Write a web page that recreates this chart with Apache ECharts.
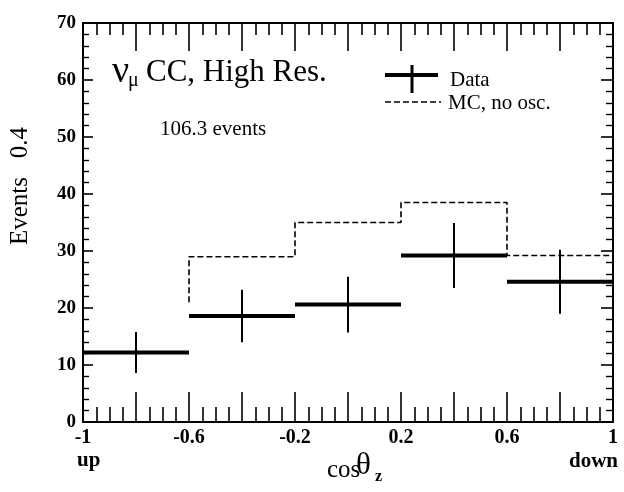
<!DOCTYPE html>
<html><head><meta charset="utf-8">
<script src="https://cdn.jsdelivr.net/npm/echarts@6/dist/echarts.min.js"></script>
<style>html,body{margin:0;padding:0;background:#fff}#c{width:624px;height:492px}</style>
</head><body><div id="c"></div>
<script>
// ---- data ----
const binEdges = [-1, -0.6, -0.2, 0.2, 0.6, 1];
const dataValues = [12.2, 18.6, 20.6, 29.2, 24.6];
const dataErrors = [3.6, 4.6, 4.9, 5.7, 5.6];
const mcEdges = [-0.6, -0.2, 0.2, 0.6, 1];
const mcStart = 21;
const mcValues = [29.0, 35.0, 38.5, 29.2];
const xTickLabels = ['-1', '-0.6', '-0.2', '0.2', '0.6', '1'];
const yTickLabels = ['0', '10', '20', '30', '40', '50', '60', '70'];

const SERIF = '"Liberation Serif", "DejaVu Serif", serif';

const dataItems = dataValues.map((v, i) => [binEdges[i], binEdges[i + 1], v, dataErrors[i]]);
const mcPoints = [[mcEdges[0], mcStart]];
mcValues.forEach((v, i) => { mcPoints.push([mcEdges[i], v]); mcPoints.push([mcEdges[i + 1], v]); });

function xFmt(v) {
  const s = xTickLabels.find(t => Math.abs(parseFloat(t) - v) < 1e-6);
  return s === undefined ? '' : s;
}
function yFmt(v) {
  const s = yTickLabels.find(t => Math.abs(parseFloat(t) - v) < 1e-6);
  return s === undefined ? '' : s;
}

function xAxisDef(pos, major, minor, showLabel) {
  return {
    type: 'value', position: pos, min: -1, max: 1, interval: 0.2,
    axisLine: { show: true, onZero: false, lineStyle: { color: '#000', width: 2 } },
    axisTick: { show: true, inside: true, length: major, lineStyle: { color: '#000', width: 1.6 } },
    minorTick: { show: true, splitNumber: 4, length: minor, lineStyle: { color: '#000', width: 1.6 } },
    splitLine: { show: false }, minorSplitLine: { show: false },
    axisLabel: { show: showLabel, formatter: xFmt, margin: 6, color: '#000',
      fontFamily: SERIF, fontSize: 20, fontWeight: 'bold' }
  };
}
function yAxisDef(pos, major, minor, showLabel) {
  return {
    type: 'value', position: pos, min: 0, max: 70, interval: 10,
    axisLine: { show: true, onZero: false, lineStyle: { color: '#000', width: 2 } },
    axisTick: { show: true, inside: true, length: major, lineStyle: { color: '#000', width: 1.6 } },
    minorTick: { show: true, splitNumber: 5, length: minor, lineStyle: { color: '#000', width: 1.4 } },
    splitLine: { show: false }, minorSplitLine: { show: false },
    axisLabel: { show: showLabel, formatter: yFmt, margin: 7, color: '#000',
      fontFamily: SERIF, fontSize: 19, fontWeight: 'bold' }
  };
}

const chart = echarts.init(document.getElementById('c'), null, { renderer: 'canvas' });
chart.setOption({
  backgroundColor: '#fff',
  animation: false,
  grid: { left: 83, right: 11, top: 23, bottom: 70 },
  xAxis: [xAxisDef('bottom', 30, 15, true), xAxisDef('top', 28, 12, false)],
  yAxis: [yAxisDef('left', 10, 6, true), yAxisDef('right', 12, 7, false)],
  series: [
    {
      type: 'line', name: 'MC, no osc.', xAxisIndex: 0, yAxisIndex: 0,
      data: mcPoints, showSymbol: false, symbol: 'none',
      lineStyle: { color: '#000', width: 1.6, type: [6, 3] }, z: 2
    },
    {
      type: 'custom', name: 'Data', xAxisIndex: 0, yAxisIndex: 0,
      data: dataItems, encode: { x: [0, 1], y: 2 },
      renderItem(params, api) {
        const x0 = api.value(0), x1 = api.value(1), y = api.value(2), e = api.value(3);
        const xc = (x0 + x1) / 2;
        const p0 = api.coord([x0, y]), p1 = api.coord([x1, y]);
        const t = api.coord([xc, y + e]), b = api.coord([xc, y - e]);
        return { type: 'group', children: [
          { type: 'line', shape: { x1: p0[0], y1: p0[1], x2: p1[0], y2: p1[1] }, style: { stroke: '#000', lineWidth: 4 } },
          { type: 'line', shape: { x1: t[0], y1: t[1], x2: b[0], y2: b[1] }, style: { stroke: '#000', lineWidth: 2 } }
        ] };
      }, z: 3
    }
  ],
  graphic: [
    // title
    { type: 'text', style: { x: 112, y: 72, text: 'ν', font: '38px ' + SERIF, fill: '#000', verticalAlign: 'middle' } },
    { type: 'text', style: { x: 128, y: 81, text: 'μ', font: '20px ' + SERIF, fill: '#000', verticalAlign: 'middle' } },
    { type: 'text', style: { x: 146, y: 73, text: 'CC, High Res.', font: '31px ' + SERIF, fill: '#000', verticalAlign: 'middle' } },
    { type: 'text', style: { x: 160, y: 129, text: '106.3 events', font: '21px ' + SERIF, fill: '#000', verticalAlign: 'middle' } },
    // legend
    { type: 'line', shape: { x1: 385, y1: 75, x2: 438, y2: 75 }, style: { stroke: '#000', lineWidth: 4 } },
    { type: 'line', shape: { x1: 412, y1: 65, x2: 412, y2: 93 }, style: { stroke: '#000', lineWidth: 3 } },
    { type: 'text', style: { x: 450, y: 80, text: 'Data', font: '21px ' + SERIF, fill: '#000', verticalAlign: 'middle' } },
    { type: 'line', shape: { x1: 385, y1: 102, x2: 441, y2: 102 }, style: { stroke: '#000', lineWidth: 1.6, lineDash: [6, 3] } },
    { type: 'text', style: { x: 448, y: 103, text: 'MC, no osc.', font: '21px ' + SERIF, fill: '#000', verticalAlign: 'middle' } },
    // y axis name
    { type: 'text', x: 20, y: 186, rotation: Math.PI / 2,
      style: { x: 0, y: 0, text: 'Events   0.4', font: '25px ' + SERIF, fill: '#000', align: 'center', verticalAlign: 'middle' } },
    // x axis name
    { type: 'text', style: { x: 327, y: 470, text: 'cos', font: '25px ' + SERIF, fill: '#000', verticalAlign: 'middle' } },
    { type: 'text', style: { x: 356, y: 466, text: 'θ', font: '31px ' + SERIF, fill: '#000', verticalAlign: 'middle' } },
    { type: 'text', style: { x: 375, y: 477, text: 'z', font: 'bold 16px ' + SERIF, fill: '#000', verticalAlign: 'middle' } },
    // up / down
    { type: 'text', style: { x: 77, y: 461, text: 'up', font: 'bold 21px ' + SERIF, fill: '#000', verticalAlign: 'middle' } },
    { type: 'text', style: { x: 618, y: 462, text: 'down', font: 'bold 21px ' + SERIF, fill: '#000', align: 'right', verticalAlign: 'middle' } }
  ]
});
</script>
</body></html>
